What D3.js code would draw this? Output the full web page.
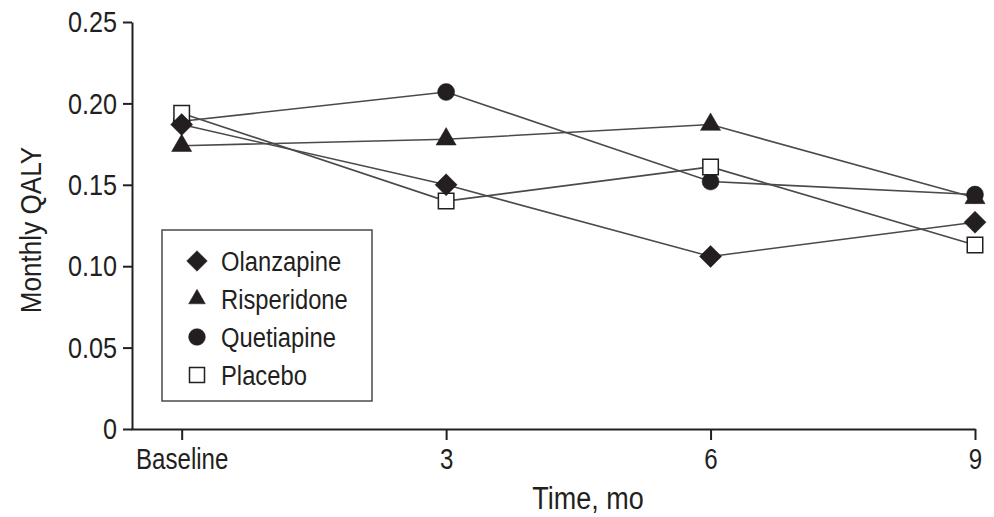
<!DOCTYPE html>
<html lang="en">
<head>
  <meta charset="UTF-8">
  <title>Monthly QALY by treatment</title>
  <script src="https://d3js.org/d3.v7.min.js"></script>
  <style>
    body { margin: 0; background: #fff; }
    text {
      fill: #231f20;
      font-family: 'Liberation Sans', Arial, sans-serif;
    }
    .axis path, .axis line { stroke: #231f20; stroke-width: 2; }
  </style>
</head>
<body>
  <svg width="994" height="517"></svg>

  <script>
    const svg = d3.select("svg");

    // The data
    const months = [0, 3, 6, 9];
    const tickLabels = ["Baseline", "3", "6", "9"];
    const yTicks = [0, 0.05, 0.10, 0.15, 0.20, 0.25];
    const olanzapine  = [0.187, 0.150, 0.106, 0.127];
    const risperidone = [0.174, 0.178, 0.187, 0.142];
    const quetiapine  = [0.189, 0.207, 0.152, 0.144];
    const placebo     = [0.194, 0.140, 0.161, 0.113];

    // drawn bottom-up so overlaps look like the original
    const series = [
      { name: "Risperidone", values: risperidone, shape: "triangle" },
      { name: "Quetiapine",  values: quetiapine,  shape: "circle" },
      { name: "Placebo",     values: placebo,     shape: "square" },
      { name: "Olanzapine",  values: olanzapine,  shape: "diamond" }
    ];
    const legendOrder = ["Olanzapine", "Risperidone", "Quetiapine", "Placebo"];

    // condensed look: squeeze the glyphs horizontally
    function squash(sel, f) {
      sel.each(function () {
        const w = this.getComputedTextLength();
        d3.select(this).attr("textLength", w * f).attr("lengthAdjust", "spacingAndGlyphs");
      });
    }

    // Scales
    const x = d3.scaleLinear().domain([-0.575, 9]).range([131, 975]);
    const y = d3.scaleLinear().domain([0, 0.25]).range([429, 22]);

    // Axes
    svg.append("g")
      .attr("class", "axis")
      .attr("transform", "translate(0,429)")
      .call(d3.axisBottom(x).tickValues(months).tickSize(11).tickSizeOuter(0).tickPadding(8)
        .tickFormat((d, i) => tickLabels[i]))
      .selectAll("text").style("font-size", "29px").call(squash, 0.83);

    svg.append("g")
      .attr("class", "axis")
      .attr("transform", "translate(132,0)")
      .call(d3.axisLeft(y).tickValues(yTicks).tickSize(9).tickSizeOuter(0).tickPadding(6)
        .tickFormat(d => d === 0 ? "0" : d.toFixed(2)))
      .selectAll("text").style("font-size", "30px").call(squash, 0.84);

    svg.selectAll(".axis .domain").attr("stroke-width", 2.5);

    // Axis titles
    svg.append("text")
      .attr("x", 588).attr("y", 509)
      .attr("text-anchor", "middle")
      .style("font-size", "31px")
      .text("Time, mo")
      .call(squash, 0.87);

    svg.append("text")
      .attr("transform", "translate(41,230) rotate(-90)")
      .attr("text-anchor", "middle")
      .style("font-size", "30px")
      .text("Monthly QALY")
      .call(squash, 0.87);

    // Symbols
    function symbolPath(shape, big) {
      const s = big
        ? { triangle: 175, circle: 227, square: 240, diamond: 242 }
        : { triangle: 121, circle: 219, square: 225, diamond: 212 };
      const type = shape === "triangle" ? d3.symbolTriangle
        : shape === "circle" ? d3.symbolCircle : d3.symbolSquare;
      return d3.symbol().type(type).size(s[shape])();
    }
    function drawMarker(g, shape, cx, cy, big) {
      g.append("path")
        .attr("d", symbolPath(shape, big))
        .attr("transform", "translate(" + cx + "," + cy + ")" + (shape === "diamond" ? " rotate(45)" : ""))
        .attr("fill", shape === "square" ? "#fff" : "#231f20")
        .attr("stroke", "#231f20")
        .attr("stroke-width", shape === "square" ? 1.5 : 0.5);
    }

    // Lines
    const line = d3.line().x((d, i) => x(months[i])).y(d => y(d));
    svg.append("g").selectAll("path")
      .data(series)
      .enter().append("path")
      .attr("d", d => line(d.values))
      .attr("fill", "none")
      .attr("stroke", "#4a4a4a")
      .attr("stroke-width", 1.6);

    // Points
    const pts = svg.append("g");
    series.forEach(s => {
      s.values.forEach((v, i) => drawMarker(pts, s.shape, x(months[i]), y(v), true));
    });

    // Legend
    const legend = svg.append("g");
    legend.append("rect")
      .attr("x", 162).attr("y", 230)
      .attr("width", 210).attr("height", 171)
      .attr("fill", "#fff")
      .attr("stroke", "#4a4a4a")
      .attr("stroke-width", 1.5);

    legendOrder.forEach((name, i) => {
      const s = series.find(d => d.name === name);
      const cy = 261 + i * 38;
      drawMarker(legend, s.shape, 197, cy, false);
      legend.append("text")
        .attr("x", 221).attr("y", cy + 10)
        .style("font-size", "27px")
        .text(name)
        .call(squash, 0.88);
    });
  </script>
</body>
</html>
